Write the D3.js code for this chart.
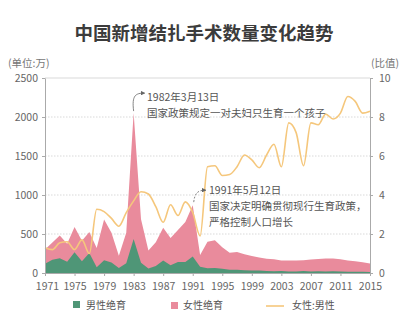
<!DOCTYPE html>
<html><head><meta charset="utf-8">
<script src="https://cdn.jsdelivr.net/npm/d3@7"></script>
<style>
body{margin:0;background:#fff;}
svg{display:block;font-family:"Noto Sans CJK SC","Noto Sans",sans-serif;}
</style></head>
<body><svg id="c" width="409" height="325"></svg>
<script>
const years = d3.range(1971, 2016);
const male = [120,170,190,145,265,150,255,75,165,135,65,125,435,130,57,90,160,100,140,140,210,80,62,65,55,43,42,34,32,31,26,23,25,18.5,19.5,25,20,21,20,21,19,16,15.5,15,13];
const female = [180,220,290,230,325,265,270,245,520,380,155,390,1615,560,230,305,420,350,410,515,660,150,340,355,275,217,228,206,186,168,158,152,136,142,140,138,154,160,165,165,156,145,136,123,108];
const ratio = [1.3,1.2,1.55,1.6,1.2,1.7,1.0,3.27,3.15,2.8,2.4,3.1,3.7,4.17,4.05,3.4,2.6,3.5,2.95,3.65,3.1,1.9,5.45,5.5,5.0,5.05,5.45,6.05,5.8,5.4,6.05,6.6,5.45,7.7,7.2,5.5,7.7,7.6,8.15,7.9,8.2,9.05,8.8,8.2,8.3];
const leftTicks = [0,500,1000,1500,2000,2500];
const rightTicks = [0,2,4,6,8,10];
const xTicks = [1971,1975,1979,1983,1987,1991,1995,1999,2003,2007,2011,2015];
const title = "中国新增结扎手术数量变化趋势";
const legendLabels = ["男性绝育","女性绝育","女性:男性"];
const note1 = ["1982年3月13日","国家政策规定一对夫妇只生育一个孩子"];
const note2 = ["1991年5月12日","国家决定明确贯彻现行生育政策，","严格控制人口增长"];

const cGreen="#4f9677", cPink="#e98b9c", cLine="#f5c77c", cText="#666";
const svg=d3.select("#c");
const L=45,R=370,T=78,B=273;
const x=d3.scaleLinear().domain([1971,2015]).range([L,R]);
const y=d3.scaleLinear().domain([0,2500]).range([B,T]);
const y2=d3.scaleLinear().domain([0,10]).range([B,T]);

svg.append("text").attr("x",204).attr("y",40).attr("text-anchor","middle")
  .attr("font-size",18.5).attr("font-weight","bold").attr("fill","#3c3c3c").text(title);
svg.append("text").attr("x",8).attr("y",67).attr("font-size",10.5).attr("fill","#777").text("(单位:万)");
svg.append("text").attr("x",399).attr("y",67).attr("text-anchor","end").attr("font-size",10.5).attr("fill","#777").text("(比值)");

// grid
svg.append("g").selectAll("line").data(leftTicks.slice(1)).join("line")
  .attr("x1",L).attr("x2",R).attr("y1",d=>y(d)).attr("y2",d=>y(d))
  .attr("stroke","#cfcfcf").attr("stroke-width",0.8).attr("stroke-dasharray",d=>d===2500?null:"1.5,1.5");

const data=years.map((yr,i)=>({yr,m:male[i],f:female[i],r:ratio[i]}));
svg.append("path").datum(data).attr("fill",cPink)
  .attr("d",d3.area().x(d=>x(d.yr)).y0(d=>y(0)).y1(d=>y(d.m+d.f)));
svg.append("path").datum(data).attr("fill",cGreen)
  .attr("d",d3.area().x(d=>x(d.yr)).y0(d=>y(0)).y1(d=>y(d.m)));
svg.append("path").datum(data).attr("fill","none").attr("stroke",cLine).attr("stroke-width",1.6)
  .attr("d",d3.line().curve(d3.curveMonotoneX).x(d=>x(d.yr)).y(d=>y2(d.r)));

// axes
const ax=(g)=>{g.select(".domain").attr("stroke","#aaa");g.selectAll(".tick line").attr("stroke","#aaa");
  g.selectAll("text").attr("fill",cText).attr("font-size",10.5).attr("font-family","'Noto Sans CJK SC',sans-serif");};
svg.append("g").attr("transform",`translate(${L},0)`).call(d3.axisLeft(y).tickValues(leftTicks).tickFormat(d3.format("d")).tickSize(3).tickSizeOuter(0).tickPadding(4)).call(ax);
svg.append("g").attr("transform",`translate(${R},0)`).call(d3.axisRight(y2).tickValues(rightTicks).tickFormat(d3.format("d")).tickSize(3).tickSizeOuter(0).tickPadding(6)).call(ax);
const xg=svg.append("g").attr("transform",`translate(0,${B})`).call(d3.axisBottom(x).tickValues(xTicks).tickFormat(d3.format("d")).tickSize(3).tickSizeOuter(0).tickPadding(7)).call(ax);
xg.selectAll(".tick text").filter(d=>d===1971).attr("dx",2);

// annotations
const defs=svg.append("defs");
defs.append("marker").attr("id","ah").attr("viewBox","0 0 6 6").attr("refX",5).attr("refY",3)
  .attr("markerWidth",5).attr("markerHeight",5).attr("orient","auto")
  .append("path").attr("d","M0,0L6,3L0,6Z").attr("fill","#666");
const p1=[x(1983),y(male[12]+female[12])];
svg.append("path").attr("d",`M${p1[0]},${p1[1]-2} C${p1[0]-2},${p1[1]-18} ${p1[0]+2},${p1[1]-20} ${p1[0]+11},${p1[1]-20}`)
  .attr("fill","none").attr("stroke","#777").attr("stroke-width",0.9).attr("marker-end","url(#ah)");
note1.forEach((t,i)=>svg.append("text").attr("x",147).attr("y",101+i*16).attr("font-size",10.5).attr("fill","#555").text(t));
const p2=[x(1991),y(male[20]+female[20])];
svg.append("path").attr("d",`M${p2[0]+1},${p2[1]-3} C${p2[0]+2},${p2[1]-12} ${p2[0]+5},${p2[1]-15} ${p2[0]+13},${p2[1]-15}`)
  .attr("fill","none").attr("stroke","#777").attr("stroke-width",0.9).attr("stroke-dasharray","2,1.5").attr("marker-end","url(#ah)");
note2.forEach((t,i)=>svg.append("text").attr("x",209).attr("y",194+i*16).attr("font-size",10.5).attr("fill","#555").text(t));

// legend
const lg=svg.append("g");
lg.append("rect").attr("x",73).attr("y",301).attr("width",7).attr("height",7).attr("fill",cGreen);
lg.append("text").attr("x",86).attr("y",308.5).attr("font-size",10).attr("fill","#555").text(legendLabels[0]);
lg.append("rect").attr("x",171).attr("y",302).attr("width",7).attr("height",7).attr("fill",cPink);
lg.append("text").attr("x",183).attr("y",309).attr("font-size",10).attr("fill","#555").text(legendLabels[1]);
lg.append("line").attr("x1",266).attr("x2",284).attr("y1",306).attr("y2",306).attr("stroke",cLine).attr("stroke-width",1.6);
lg.append("text").attr("x",292).attr("y",309).attr("font-size",10).attr("fill","#555").text(legendLabels[2]);
</script></body></html>
